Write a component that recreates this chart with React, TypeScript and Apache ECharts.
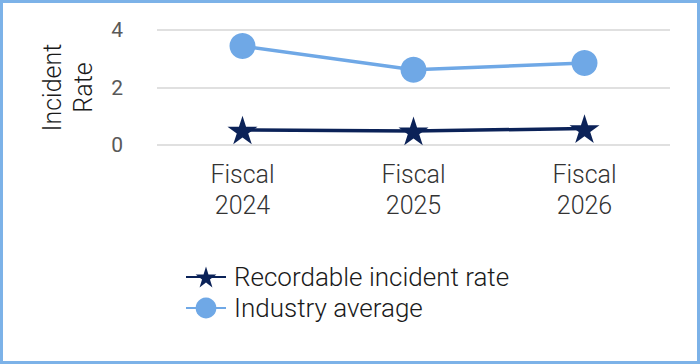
import React, { useEffect, useRef } from "react";
import * as echarts from "echarts";

const categories = ["Fiscal\n2024", "Fiscal\n2025", "Fiscal\n2026"];
const recordableRate = [0.52, 0.49, 0.57];
const industryAverage = [3.44, 2.62, 2.85];
const seriesNames = ["Recordable incident rate", "Industry average"];

export default function App() {
  const ref = useRef<HTMLDivElement>(null);
  useEffect(() => {
    const chart = echarts.init(ref.current!, null, { renderer: "svg" });
    chart.setOption({
      animation: false,
      textStyle: { fontFamily: "Roboto", fontWeight: 300 },
      grid: { left: 154, right: 27, top: 27, bottom: 216 },
      xAxis: {
        type: "category",
        data: categories,
        axisLine: { show: false },
        axisTick: { show: false },
        axisLabel: { color: "#333", fontSize: 25, lineHeight: 31, margin: 14, fontFamily: "Roboto", fontWeight: 300 },
      },
      yAxis: {
        type: "value",
        min: 0,
        max: 4,
        interval: 2,
        name: "Incident\nRate",
        nameLocation: "middle",
        nameRotate: 90,
        nameGap: 58,
        nameTextStyle: { color: "#1a1a1a", fontSize: 25, lineHeight: 31, fontFamily: "Roboto", fontWeight: 300 },
        axisLabel: { color: "#595959", fontSize: 21, margin: 34, fontFamily: "Roboto", fontWeight: 400 },
        splitLine: { lineStyle: { color: "#e0e0e0", width: 2 } },
      },
      legend: {
        orient: "vertical",
        left: 177,
        top: 256,
        itemWidth: 40,
        itemHeight: 26,
        itemGap: 5,
        textStyle: { color: "#1a1a1a", fontSize: 26, fontFamily: "Roboto", fontWeight: 300, padding: [0, 0, 0, 3] },
        data: seriesNames,
      },
      series: [
        {
          name: seriesNames[0],
          type: "line",
          data: recordableRate,
          symbol: "path://M12,0 L14.8,8.6 L23.8,8.6 L16.5,13.9 L19.3,22.5 L12,17.2 L4.7,22.5 L7.5,13.9 L0.2,8.6 L9.2,8.6 Z",
          symbolSize: 30,
          symbolKeepAspect: true,
          z: 3,
          lineStyle: { color: "#0b2258", width: 3.5 },
          itemStyle: { color: "#0b2258" },
        },
        {
          name: seriesNames[1],
          type: "line",
          data: industryAverage,
          symbol: "circle",
          symbolSize: 26,
          z: 2,
          lineStyle: { color: "#6fa8e6", width: 3.5 },
          itemStyle: { color: "#6fa8e6" },
        },
      ],
    });
    return () => chart.dispose();
  }, []);
  return (
    <div
      style={{
        width: 700,
        height: 364,
        position: "absolute",
        left: 0,
        top: 0,
        boxSizing: "border-box",
        border: "3px solid #7cb2e8",
        background: "#fff",
      }}
    >
      <div ref={ref} style={{ width: 694, height: 358, position: "absolute", left: 0, top: 0 }} />
    </div>
  );
}
